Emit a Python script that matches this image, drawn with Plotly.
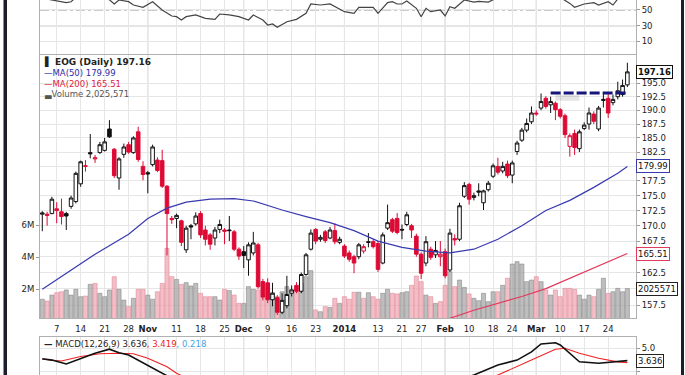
import math
import plotly.graph_objects as go

# ---------------- data (trading-day index 0 = 2 Oct 2013 ... 122 = 28 Mar 2014) ----------------
day_index = list(range(123))

open_p = [171.9, 171.9, 172.0, 172.5, 172.3, 172.0, 173.2, 174.0, 177.0, 180.0,
          182.4, 181.3, 182.4, 182.8, 186.6, 183.0, 178.0, 182.1, 183.8, 182.4,
          186.1, 180.0, 178.9, 180.3, 181.1, 181.0, 176.6, 171.2, 171.2, 170.8,
          166.1, 170.0, 170.3, 172.0, 169.3, 168.5, 168.0, 169.4, 169.3, 169.3,
          169.0, 166.2, 165.8, 164.5, 165.6, 166.9, 161.1, 160.9, 158.3, 158.6,
          156.4, 157.4, 159.3, 160.5, 159.6, 162.2, 166.2, 169.4, 167.8, 169.0,
          168.0, 169.2, 167.3, 166.7, 165.6, 165.0, 165.0, 165.9, 167.4, 167.4,
          167.1, 164.0, 169.6, 171.0, 171.2, 169.4, 170.2, 170.0, 168.3, 165.4,
          164.0, 166.2, 165.3, 165.0, 165.8, 162.9, 167.9, 167.8, 174.9, 176.9,
          174.7, 175.8, 173.8, 176.0, 178.3, 180.0, 179.2, 180.4, 178.5, 182.6,
          184.6, 186.4, 187.9, 189.3, 190.4, 192.2, 191.0, 191.3, 190.1, 189.0,
          183.5, 185.8, 183.1, 186.7, 187.5, 189.3, 186.6, 191.8, 192.2, 191.4,
          192.5, 192.9, 194.7]
high_p = [172.4, 172.3, 174.8, 173.9, 174.5, 172.3, 175.0, 179.1, 181.0, 181.1,
          185.7, 182.0, 184.3, 185.0, 188.2, 183.2, 181.6, 184.0, 184.3, 185.3,
          187.0, 180.9, 179.2, 183.8, 181.6, 182.9, 176.8, 171.6, 172.0, 171.0,
          170.0, 170.3, 172.2, 172.4, 170.0, 168.8, 169.8, 171.0, 169.6, 171.6,
          169.3, 166.5, 166.7, 167.3, 169.0, 167.2, 161.5, 161.6, 160.9, 159.0,
          159.3, 162.0, 160.5, 161.0, 162.5, 165.6, 169.4, 169.6, 168.5, 169.3,
          169.8, 170.4, 168.2, 167.0, 166.0, 165.3, 167.2, 167.0, 168.8, 167.8,
          167.5, 168.9, 173.5, 171.3, 172.1, 170.2, 172.3, 170.3, 168.7, 165.7,
          168.3, 166.6, 167.5, 167.5, 166.3, 169.5, 168.6, 173.8, 177.3, 177.2,
          175.5, 177.1, 176.0, 177.5, 180.5, 181.5, 180.8, 181.0, 181.0, 184.5,
          186.8, 188.5, 190.7, 190.0, 193.1, 192.6, 192.5, 191.6, 190.4, 189.4,
          185.8, 186.5, 186.5, 187.8, 190.5, 189.8, 190.8, 193.0, 193.0, 192.9,
          195.3, 195.7, 198.9]
low_p = [169.1, 170.0, 171.9, 170.4, 170.2, 169.3, 172.8, 173.7, 176.5, 179.1,
         181.4, 180.6, 182.2, 182.6, 185.0, 178.0, 176.0, 181.5, 182.2, 182.2,
         180.8, 177.6, 175.4, 180.0, 179.0, 176.3, 165.2, 170.3, 169.6, 166.7,
         165.6, 167.8, 170.0, 168.0, 166.8, 166.1, 166.8, 168.8, 167.0, 167.5,
         165.9, 164.5, 163.2, 162.0, 165.2, 160.0, 158.2, 157.8, 157.3, 156.0,
         156.1, 157.0, 158.8, 159.3, 159.3, 162.0, 166.0, 167.0, 167.4, 167.2,
         167.8, 167.0, 167.0, 164.8, 164.2, 162.4, 164.6, 165.5, 166.5, 166.3,
         162.6, 163.8, 169.3, 168.8, 168.6, 167.8, 169.9, 168.0, 165.0, 161.5,
         163.5, 164.5, 164.8, 163.5, 161.6, 162.6, 166.8, 167.5, 174.6, 173.5,
         174.2, 174.9, 172.6, 175.7, 178.0, 178.6, 178.8, 178.0, 177.1, 182.0,
         184.3, 186.0, 187.5, 189.0, 190.0, 190.3, 189.5, 188.2, 188.5, 185.0,
         181.7, 182.0, 182.5, 186.4, 186.5, 187.5, 186.2, 190.5, 188.6, 190.9,
         192.0, 192.5, 194.3]
close_p = [172.1, 171.7, 174.4, 172.8, 171.5, 171.6, 174.6, 178.8, 180.8, 180.1,
           182.2, 181.5, 183.8, 184.3, 185.2, 178.4, 181.3, 183.4, 182.5, 185.0,
           181.2, 178.6, 178.7, 183.4, 179.3, 176.6, 172.0, 171.0, 171.7, 167.3,
           169.6, 169.8, 171.6, 168.5, 167.8, 167.0, 169.3, 170.2, 169.1, 169.2,
           166.2, 165.1, 165.2, 166.9, 167.2, 160.3, 158.7, 158.3, 159.3, 156.4,
           158.2, 159.1, 159.8, 159.6, 162.2, 165.3, 168.8, 167.5, 168.1, 167.6,
           169.3, 167.4, 167.8, 165.1, 164.6, 164.0, 166.9, 166.6, 167.3, 166.6,
           163.0, 168.5, 170.5, 169.1, 168.9, 169.3, 171.8, 169.3, 165.4, 162.4,
           167.4, 164.9, 166.0, 165.4, 162.0, 168.8, 167.7, 173.3, 176.7, 174.4,
           175.0, 175.6, 175.8, 177.1, 180.1, 179.0, 180.0, 178.4, 180.6, 184.1,
           186.4, 187.6, 189.5, 189.45, 191.6, 190.7, 191.6, 190.1, 188.9, 185.6,
           185.4, 183.3, 186.1, 187.3, 189.5, 188.0, 190.4, 192.0, 189.5, 192.0,
           193.6, 194.6, 197.16]
volume_m = [1.36, 1.25, 1.62, 1.77, 1.83, 1.94, 1.62, 1.98, 1.52, 1.56,
            2.29, 2.35, 1.73, 1.52, 1.94, 2.77, 1.98, 1.31, 0.90, 1.42,
            1.98, 1.98, 1.62, 1.36, 1.83, 2.35, 4.54, 2.77, 2.60, 2.29,
            2.40, 2.19, 2.35, 1.73, 1.52, 1.52, 1.52, 1.31, 1.98, 1.90,
            1.62, 1.10, 1.10, 2.15, 1.98, 1.94, 2.40, 2.15, 1.77, 1.52,
            1.83, 2.15, 1.94, 1.83, 2.35, 2.77, 3.15, 0.69, 0.58, 0.90,
            0.85, 1.42, 1.10, 1.52, 1.36, 1.80, 1.80, 1.42, 1.77, 1.52,
            1.36, 1.73, 1.98, 1.73, 1.69, 1.77, 1.83, 2.23, 2.81, 2.46,
            1.62, 1.52, 1.10, 1.21, 2.23, 3.08, 2.15, 2.56, 2.10, 1.69,
            1.42, 1.27, 1.73, 1.21, 1.83, 1.83, 2.23, 2.67, 3.56, 3.71,
            3.56, 2.46, 2.56, 2.77, 2.46, 1.94, 1.62, 1.94, 1.52, 2.04,
            2.04, 1.98, 1.62, 1.36, 1.62, 1.52, 1.98, 2.67, 1.73, 1.83,
            2.04, 1.83, 2.025571]

ma50_idx = [0, 5, 11, 18, 22, 26, 30, 35, 40, 44, 50, 55, 60, 65, 70, 75, 80, 85, 90, 95,
            100, 105, 110, 115, 120, 122]
ma50_val = [159.9, 162.4, 165.4, 168.6, 171.2, 172.9, 173.9, 174.4, 174.5, 174.1, 172.6,
            171.5, 170.5, 169.2, 167.5, 166.5, 165.9, 165.6, 166.2, 167.8, 170.0, 172.5,
            174.2, 176.4, 178.8, 179.99]
ma200_idx = [75, 80, 85, 90, 95, 100, 105, 110, 115, 120, 122]
ma200_val = [153.6, 154.6, 155.5, 156.7, 157.7, 158.8, 160.0, 161.6, 163.2, 164.8, 165.51]

resist_idx = [106, 122]
resist_val = [193.2, 193.2]
shadow_idx = [107, 112]
shadow_val = [192.3, 192.3]

rsi_idx = [0, 3, 5, 6, 7, 11, 14, 15, 16, 18, 19, 21, 23, 25, 27, 28, 29, 30, 32, 34, 36,
           37, 39, 41, 43, 44, 46, 47, 48, 49, 51, 53, 55, 56, 58, 60, 61, 63, 65, 66, 69,
           70, 72, 73, 74, 75, 76, 78, 79, 80, 81, 83, 84, 85, 86, 88, 90, 91, 93, 95,
           100, 105, 108, 110, 111, 113, 115, 116, 118, 119, 120, 122]
rsi_val = [65, 61.8, 59.3, 60.5, 66, 68, 63, 57.6, 62.7, 60.6, 56.3, 53.4, 60.5, 49.9, 42.3,
           41.4, 37.2, 41.4, 43.6, 39.3, 38.0, 44.8, 43.6, 41.4, 37.2, 43.6, 37.2, 30.8, 32.1,
           27.8, 35.0, 38.0, 45.7, 57.6, 56.3, 57.6, 54.1, 47.8, 45.7, 53.4, 53.4, 45.7, 59.3,
           60.5, 57.6, 57.6, 61.4, 52.1, 41.4, 52.1, 47.8, 49.9, 42.3, 54.1, 52.1, 62.7, 60,
           61, 60, 66, 75, 75, 66, 58.4, 53.4, 57.6, 59.3, 56.3, 60.5, 56.3, 64, 70]
rsi_levels = [50, 30]
rsi_ticks = [10, 30, 50]

macd_idx = [0, 2, 5, 8, 11, 14, 16, 18, 20, 22, 25, 28, 35, 45, 50, 60, 70, 80, 85, 88,
            90, 95, 99, 102, 104, 107, 108, 110, 112, 116, 119, 122]
macd_val = [3.85, 3.7, 3.27, 3.9, 4.45, 4.9, 4.5, 4.26, 3.7, 3.16, 2.25, 1.4, 0.2, -1.2,
            -2.3, -0.8, -0.4, -0.6, 0.6, 1.7, 2.06, 3.16, 3.7, 4.6, 5.47, 5.6, 5.36, 4.45,
            3.52, 3.35, 3.52, 3.636]
signal_idx = [0, 4, 8, 12, 16, 19, 22, 26, 28, 32, 40, 50, 60, 70, 80, 88, 95, 102, 107,
              109, 112, 116, 120, 122]
signal_val = [3.8, 3.6, 4.1, 4.4, 4.45, 4.4, 3.9, 2.97, 2.25, 1.2, 0.2, -1.3, -1.2, -0.6,
              -0.5, 0.9, 2.06, 3.7, 4.9, 5.0, 4.45, 3.9, 3.5, 3.419]

tick_idx = [3, 8, 13, 18, 22, 28, 33, 38, 42, 47, 52, 57, 63, 70, 75, 79, 84, 89, 94, 98,
            103, 108, 113, 118]
tick_txt = ["7", "14", "21", "28", "<b>Nov</b>", "11", "18", "25", "<b>Dec</b>", "9", "16",
            "23", "<b>2014</b>", "13", "21", "27", "<b>Feb</b>", "10", "18", "24",
            "<b>Mar</b>", "10", "17", "24"]
month_idx = [22, 42, 63, 84, 103]
price_ticks = [157.5 + 2.5 * k for k in range(16)]
price_hidden = [160.0, 165.0, 180.0]   # covered by the value tags
vol_ticks = [2e6, 4e6, 6e6]
vol_ticktext = ["2M", "4M", "6M"]
macd_ticks = [2.5, 5.0]

# ---------------- layout geometry ----------------
W, H = 685, 375
ML, MR = 40, 49
FONT = "DejaVu Sans"


def py(p):
    return 1 - p / H


price_dom = [py(318), py(55)]
rsi_dom = [py(54), 1.0]
macd_dom = [0.0, py(337)]
x_range = [-0.48, 123.8]
price_range = [math.log10(155.54), math.log10(200.39)]
vol_range = [0.1875e6, 16.625e6]
rsi_range = [-6.26, 62.7]
macd_range = [2.06, 6.24]

GRID = "#e6e6e6"
RED = "#dd0a35"

fig = go.Figure()

# volume bars (base axis y, left)
vcol, vline = [], []
for i in day_index:
    prev = close_p[i - 1] if i > 0 else open_p[i]
    if close_p[i] >= prev:
        vcol.append("rgba(165,165,165,0.72)")
        vline.append("rgba(125,125,125,0.85)")
    else:
        vcol.append("rgba(240,165,178,0.72)")
        vline.append("rgba(222,125,142,0.85)")
fig.add_trace(go.Bar(x=day_index, y=[v * 1e6 for v in volume_m], width=0.86,
                     marker=dict(color=vcol, line=dict(color=vline, width=0.6)),
                     xaxis="x", yaxis="y", hoverinfo="skip", showlegend=False))

# moving averages
fig.add_trace(go.Scatter(x=ma50_idx, y=ma50_val, mode="lines", line=dict(color="#3a3ab0", width=1.2),
                         xaxis="x", yaxis="y2", hoverinfo="skip", showlegend=False))
fig.add_trace(go.Scatter(x=ma200_idx, y=ma200_val, mode="lines", line=dict(color="#e23a5a", width=1.2),
                         xaxis="x", yaxis="y2", hoverinfo="skip", showlegend=False))

# soft shadow under the resistance line
fig.add_trace(go.Scatter(x=shadow_idx, y=shadow_val, mode="lines",
                         line=dict(color="rgba(0,0,0,0.10)", width=6),
                         xaxis="x", yaxis="y2", hoverinfo="skip", showlegend=False))

# candlesticks grouped by StockCharts colouring
groups = {"hollow_black": [], "hollow_red": [], "filled_black": [], "filled_red": []}
for i in day_index:
    prev = close_p[i - 1] if i > 0 else open_p[i]
    up = close_p[i] >= prev
    hollow = close_p[i] > open_p[i]
    key = ("hollow_" if hollow else "filled_") + ("black" if up else "red")
    groups[key].append(i)
styles = {"hollow_black": ("#111111", "white"), "hollow_red": (RED, "white"),
          "filled_black": ("#111111", "#111111"), "filled_red": (RED, RED)}
for key, idxs in groups.items():
    if not idxs:
        continue
    lc, fc = styles[key]
    st = dict(line=dict(color=lc, width=1), fillcolor=fc)
    fig.add_trace(go.Candlestick(x=idxs, open=[open_p[i] for i in idxs], high=[high_p[i] for i in idxs],
                                 low=[low_p[i] for i in idxs], close=[close_p[i] for i in idxs],
                                 increasing=st, decreasing=st, whiskerwidth=0,
                                 xaxis="x", yaxis="y2", hoverinfo="skip", showlegend=False))

# resistance line
fig.add_trace(go.Scatter(x=resist_idx, y=resist_val, mode="lines",
                         line=dict(color="#15157a", width=3, dash="10px,3px"),
                         xaxis="x", yaxis="y2", hoverinfo="skip", showlegend=False))

# RSI
fig.add_trace(go.Scatter(x=rsi_idx, y=rsi_val, mode="lines", line=dict(color="#444444", width=1.2),
                         xaxis="x2", yaxis="y3", hoverinfo="skip", showlegend=False))

# MACD
fig.add_trace(go.Scatter(x=signal_idx, y=signal_val, mode="lines", line=dict(color="#ee2222", width=1.1),
                         xaxis="x3", yaxis="y4", hoverinfo="skip", showlegend=False))
fig.add_trace(go.Scatter(x=macd_idx, y=macd_val, mode="lines", line=dict(color="#111111", width=1.6),
                         xaxis="x3", yaxis="y4", hoverinfo="skip", showlegend=False))

tickfont = dict(family=FONT, size=8.5, color="#222")
xcommon = dict(range=x_range, tickmode="array", tickvals=tick_idx, showgrid=True, gridcolor=GRID,
               gridwidth=1, zeroline=False, showline=True, linecolor="#b0b0b0", mirror=True,
               fixedrange=True)

fig.update_layout(
    width=W, height=H, margin=dict(l=ML, r=MR, t=0, b=0),
    paper_bgcolor="white", plot_bgcolor="rgba(0,0,0,0)",
    showlegend=False, boxgap=0.22, boxgroupgap=0.05, bargap=0,
    font=dict(family=FONT, size=9, color="#222"),
    xaxis=dict(**xcommon, anchor="y", domain=[0, 1], ticktext=tick_txt, showticklabels=True,
               ticks="outside", ticklen=3, tickcolor="rgba(0,0,0,0)", tickfont=tickfont,
               rangeslider=dict(visible=False)),
    yaxis=dict(domain=price_dom, range=vol_range, side="left", tickmode="array", tickvals=vol_ticks,
               ticktext=vol_ticktext, showgrid=False, zeroline=False, showline=True,
               linecolor="#b0b0b0", mirror=True, ticks="outside", ticklen=3, tickcolor="#999",
               tickfont=tickfont, anchor="x", fixedrange=True),
    yaxis2=dict(overlaying="y", side="right", type="log", range=price_range, tickmode="array",
                tickvals=price_ticks,
                ticktext=["" if v in price_hidden else "%.1f" % v for v in price_ticks],
                showgrid=True, gridcolor=GRID, zeroline=False, ticks="outside", ticklen=3,
                tickcolor="#999", tickfont=tickfont, anchor="x", fixedrange=True),
    xaxis2=dict(**xcommon, anchor="y3", matches="x", showticklabels=False),
    yaxis3=dict(domain=rsi_dom, range=rsi_range, side="right", tickmode="array", tickvals=rsi_ticks,
                showgrid=True, gridcolor=GRID, zeroline=False, showline=True, linecolor="#b0b0b0",
                mirror=True, ticks="outside", ticklen=3, tickcolor="#999", tickfont=tickfont,
                anchor="x2", fixedrange=True),
    xaxis3=dict(**xcommon, anchor="y4", matches="x", showticklabels=False),
    yaxis4=dict(domain=macd_dom, range=macd_range, side="right", tickmode="array", tickvals=macd_ticks,
                ticktext=["%.1f" % v for v in macd_ticks], showgrid=True, gridcolor=GRID,
                zeroline=False, showline=True, linecolor="#b0b0b0", mirror=True, ticks="outside",
                ticklen=3, tickcolor="#999", tickfont=tickfont, anchor="x3", fixedrange=True),
)

shapes = []
# darker month separators in each panel
for m in month_idx:
    for dom in (price_dom, rsi_dom, macd_dom):
        shapes.append(dict(type="line", xref="x", yref="paper", x0=m, x1=m, y0=dom[0], y1=dom[1],
                           line=dict(color="#c4c4c4", width=1), layer="below"))
# RSI reference levels
shapes.append(dict(type="line", xref="paper", yref="y3", x0=0, x1=1, y0=rsi_levels[0], y1=rsi_levels[0],
                   line=dict(color="#888", width=1, dash="dashdot"), layer="below"))
shapes.append(dict(type="line", xref="paper", yref="y3", x0=0, x1=1, y0=rsi_levels[1], y1=rsi_levels[1],
                   line=dict(color="#999", width=1.2), layer="below"))
# outer frame strips
shapes.append(dict(type="rect", xref="paper", yref="paper", x0=(3.5 - ML) / (W - ML - MR),
                   x1=(7 - ML) / (W - ML - MR), y0=0, y1=1, fillcolor="#1e1e2a", line=dict(width=0)))
shapes.append(dict(type="rect", xref="paper", yref="paper", x0=(681 - ML) / (W - ML - MR),
                   x1=(684 - ML) / (W - ML - MR), y0=0, y1=1, fillcolor="#1e1e2a", line=dict(width=0)))
fig.update_layout(shapes=shapes)

ann = []
lx = 2
ann.append(dict(xref="paper", yref="paper", x=0, xshift=lx, y=py(61.7), xanchor="left", yanchor="middle",
                text="<b>\u258c EOG (Daily) 197.16</b>", showarrow=False,
                font=dict(family=FONT, size=9, color="#222")))
ann.append(dict(xref="paper", yref="paper", x=0, xshift=lx, y=py(73.3), xanchor="left", yanchor="middle",
                text="\u2014MA(50) 179.99", showarrow=False, font=dict(family=FONT, size=8.5, color="#2b2ba8")))
ann.append(dict(xref="paper", yref="paper", x=0, xshift=lx, y=py(84.2), xanchor="left", yanchor="middle",
                text="\u2014MA(200) 165.51", showarrow=False, font=dict(family=FONT, size=8.5, color="#e0203c")))
ann.append(dict(xref="paper", yref="paper", x=0, xshift=lx, y=py(94.7), xanchor="left", yanchor="middle",
                text="\u2583Volume 2,025,571", showarrow=False, font=dict(family=FONT, size=8.5, color="#555")))
ann.append(dict(xref="paper", yref="paper", x=0, xshift=lx, y=py(343.5), xanchor="left", yanchor="middle",
                text="<b>\u2014</b> MACD(12,26,9) 3.636<span style='color:#ee2222'>, 3.419</span>"
                     "<span style='color:#3fa3e6'>, 0.218</span>",
                showarrow=False, font=dict(family=FONT, size=8.5, color="#222")))


def tag(text, yref, yval, border, bold=False):
    return dict(xref="paper", yref=yref, x=1, xshift=0, y=yval, xanchor="left", yanchor="middle",
                text=("<b>%s</b>" % text) if bold else text, showarrow=False, bgcolor="white",
                bordercolor=border, borderwidth=1, borderpad=1,
                font=dict(family=FONT, size=8.5, color="#111"))


ann.append(tag("197.16", "y2", math.log10(close_p[-1]), "#111", bold=True))
ann.append(tag("179.99", "y2", math.log10(ma50_val[-1]), "#3a3ab0"))
ann.append(tag("165.51", "y2", math.log10(ma200_val[-1]), "#e23a5a"))
ann.append(tag("2025571", "y", volume_m[-1] * 1e6, "#222"))
ann.append(tag("3.636", "y4", macd_val[-1], "#222"))
fig.update_layout(annotations=ann)

fig.write_html("out.html", config={"displayModeBar": False, "staticPlot": True},
               post_script="document.body.style.margin='0px';document.body.style.overflow='hidden';")
